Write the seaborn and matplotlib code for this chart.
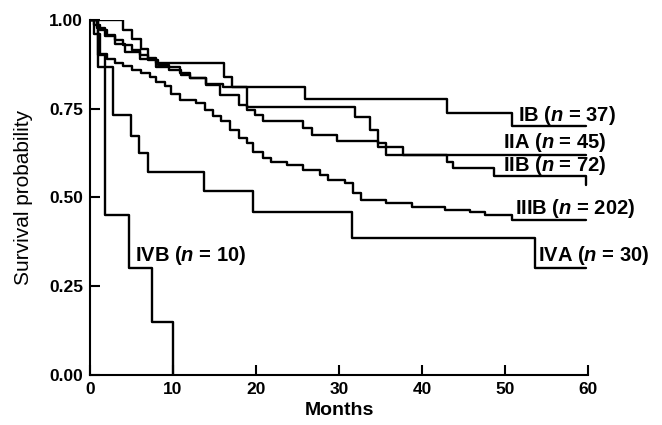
import pandas as pd
import matplotlib
matplotlib.use("Agg")
import matplotlib.pyplot as plt
import seaborn as sns

# Kaplan-Meier curves (months, survival probability)
ib_t = [0, 4.0, 5.1, 6.1, 7.0, 8.0, 16.1, 17.1, 25.9, 43.0, 50.9, 59.8]
ib_s = [1.0, 0.973, 0.946, 0.919, 0.892, 0.878, 0.840, 0.811, 0.777, 0.737, 0.700, 0.700]

iia_t = [0, 0.8, 1.8, 3.0, 4.2, 6.0, 8.0, 10.8, 12.0, 14.0, 16.0, 18.9, 31.9, 33.7,
         34.7, 35.7, 59.8]
iia_s = [1.0, 0.978, 0.956, 0.933, 0.911, 0.889, 0.867, 0.850, 0.836, 0.820, 0.811,
         0.756, 0.728, 0.690, 0.654, 0.620, 0.620]

iib_t = [0, 0.5, 1.2, 2.0, 3.0, 4.0, 5.0, 6.0, 7.0, 8.2, 9.5, 11.0, 12.0, 14.0, 15.7,
         17.9, 18.9, 19.9, 20.8, 25.7, 26.8, 29.8, 34.7, 37.7, 43.0, 43.8, 48.7, 59.8]
iib_s = [1.0, 0.986, 0.972, 0.958, 0.944, 0.930, 0.916, 0.902, 0.888, 0.874, 0.860,
         0.846, 0.836, 0.817, 0.789, 0.760, 0.746, 0.732, 0.714, 0.695, 0.676, 0.660,
         0.643, 0.620, 0.600, 0.582, 0.559, 0.535]

iiib_t = [0, 0.5, 1.2, 2.0, 3.0, 4.0, 5.0, 6.2, 7.2, 8.0, 9.0, 9.8, 10.8, 12.8, 13.8,
          14.8, 15.8, 16.9, 17.9, 18.9, 19.7, 20.9, 21.8, 23.7, 25.7, 27.7, 28.7, 30.7,
          31.7, 32.7, 35.7, 38.8, 42.8, 45.8, 47.6, 50.8, 59.8]
iiib_s = [1.0, 0.96, 0.905, 0.89, 0.88, 0.87, 0.86, 0.85, 0.84, 0.826, 0.815, 0.79,
          0.775, 0.765, 0.746, 0.73, 0.714, 0.69, 0.667, 0.652, 0.627, 0.61, 0.60,
          0.592, 0.577, 0.563, 0.548, 0.54, 0.512, 0.493, 0.484, 0.474, 0.465, 0.46,
          0.45, 0.437, 0.437]

iva_t = [0, 1.0, 2.8, 4.9, 5.9, 7.0, 13.7, 19.7, 31.6, 53.6, 59.8]
iva_s = [1.0, 0.867, 0.733, 0.673, 0.625, 0.573, 0.519, 0.46, 0.386, 0.30, 0.30]

ivb_t = [0, 1.0, 1.8, 4.7, 7.5, 10.0]
ivb_s = [1.0, 0.9, 0.45, 0.30, 0.15, 0.0]

curves = {"IB": (ib_t, ib_s), "IIA": (iia_t, iia_s), "IIB": (iib_t, iib_s),
          "IIIB": (iiib_t, iiib_s), "IVA": (iva_t, iva_s), "IVB": (ivb_t, ivb_s)}

# curve labels: text, x, y
label_text = ["IB ($n$ = 37)", "IIA ($n$ = 45)", "IIB ($n$ = 72)",
              "IIIB ($n$ = 202)", "IVA ($n$ = 30)", "IVB ($n$ = 10)"]
label_x = [51.6, 49.8, 49.8, 51.2, 54.0, 5.4]
label_y = [0.732, 0.656, 0.590, 0.470, 0.335, 0.335]

sns.set_style("ticks", {"text.color": "black", "axes.labelcolor": "black",
                        "xtick.color": "black", "ytick.color": "black",
                        "axes.edgecolor": "black"})
plt.rcParams['font.family'] = ['Liberation Sans', 'DejaVu Sans']
plt.rcParams['mathtext.fontset'] = 'custom'
plt.rcParams['mathtext.it'] = 'Liberation Sans:bold:italic'
plt.rcParams['mathtext.rm'] = 'Liberation Sans:bold'

fig = plt.figure(figsize=(6.62, 4.25), dpi=100)
ax = fig.add_axes([0.136, 0.118, 0.752, 0.835])

for name, (t, s) in curves.items():
    df = pd.DataFrame({"Months": t, "Survival": s})
    sns.lineplot(data=df, x="Months", y="Survival", ax=ax, estimator=None, sort=False,
                 drawstyle="steps-post", color="black", linewidth=1.7)

for txt, x, y in zip(label_text, label_x, label_y):
    ax.text(x, y, txt, fontsize=14.5, fontweight="bold", va="center", ha="left",
            color="black")

ax.set_xlim(0, 60)
ax.set_ylim(0, 1.0)
ax.set_xticks([0, 10, 20, 30, 40, 50, 60])
ax.set_yticks([0, 0.25, 0.5, 0.75, 1.0])
ax.set_yticklabels(["0.00", "0.25", "0.50", "0.75", "1.00"])
ax.tick_params(direction="in", length=7, width=1.5, labelsize=12.5, pad=5)
for lab in ax.get_xticklabels() + ax.get_yticklabels():
    lab.set_fontweight("bold")
ax.set_xlabel("Months", fontsize=14, fontweight="bold", labelpad=4)
ax.set_ylabel("Survival probability", fontsize=15)
ax.yaxis.set_label_coords(-0.115, 0.5)
for sp in ["left", "bottom"]:
    ax.spines[sp].set_linewidth(1.5)
sns.despine(ax=ax)

fig.savefig("out.png", dpi=100)
